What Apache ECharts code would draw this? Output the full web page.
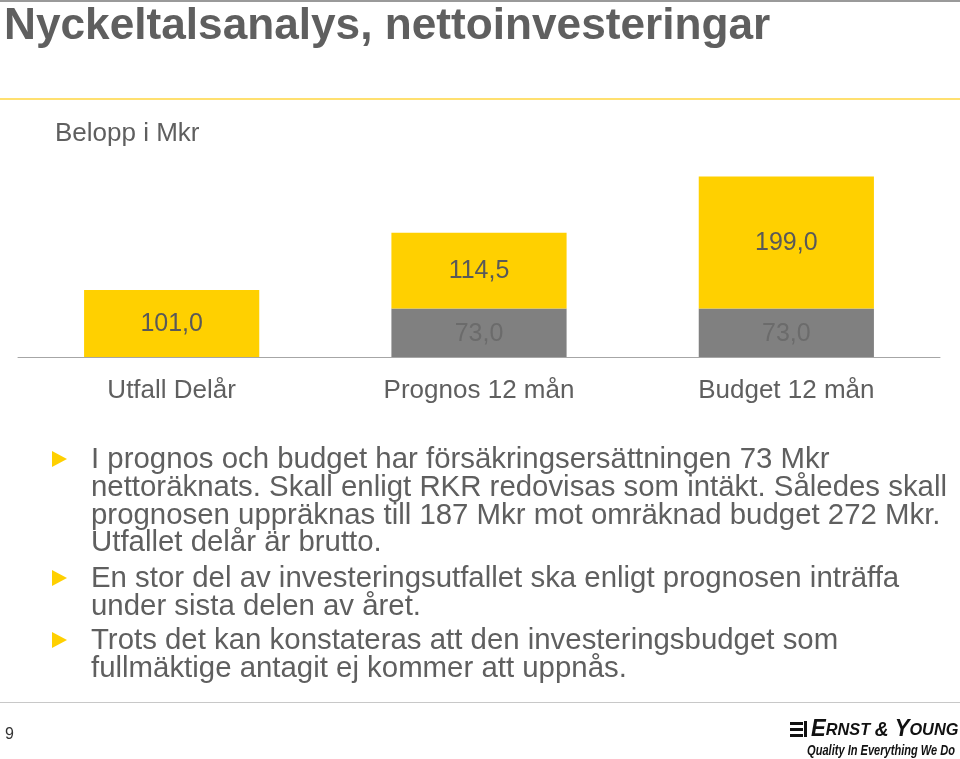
<!DOCTYPE html>
<html><head><meta charset="utf-8">
<script src="https://cdn.jsdelivr.net/npm/echarts@6/dist/echarts.min.js"></script>
<style>html,body{margin:0;padding:0;background:#fff}#c{width:960px;height:759px}</style>
</head><body><div id="c"></div>
<script>
const categories = ['Utfall Delår', 'Prognos 12 mån', 'Budget 12 mån'];
const grossValues = [null, 73.0, 73.0];
const netValues = [101.0, 114.5, 199.0];
const titleText = 'Nyckeltalsanalys, nettoinvesteringar';
const unitText = 'Belopp i Mkr';
const bulletLines = [
  ['I prognos och budget har försäkringsersättningen 73 Mkr',
   'nettoräknats. Skall enligt RKR redovisas som intäkt. Således skall',
   'prognosen uppräknas till 187 Mkr mot omräknad budget 272 Mkr.',
   'Utfallet delår är brutto.'],
  ['En stor del av investeringsutfallet ska enligt prognosen inträffa',
   'under sista delen av året.'],
  ['Trots det kan konstateras att den investeringsbudget som',
   'fullmäktige antagit ej kommer att uppnås.']
];
const pageNumber = '9';

const YELLOW = '#FFD000', GRAY = '#808080', TEXT = '#5f5f5f';
const FONT = 'Arial, Liberation Sans, sans-serif';
const fmt = v => v == null ? '' : v.toFixed(1).replace('.', ',');

const graphics = [];
graphics.push({type:'rect', shape:{x:0,y:0,width:960,height:2}, style:{fill:'#9a9a9a'}});
graphics.push({type:'rect', shape:{x:0,y:98,width:960,height:2}, style:{fill:'#FFE070'}});
graphics.push({type:'rect', shape:{x:0,y:702,width:960,height:1}, style:{fill:'#c8c8c8'}});
graphics.push({type:'text', x:4, y:27, style:{text:titleText, font:'bold 44.2px '+FONT, fill:TEXT, verticalAlign:'middle'}});
graphics.push({type:'text', x:55, y:134, style:{text:unitText, font:'26px '+FONT, fill:TEXT, verticalAlign:'middle'}});
const starts = [459, 578, 640];
bulletLines.forEach((lines, i) => {
  const y0 = starts[i];
  graphics.push({type:'polygon', shape:{points:[[52,y0-8],[67,y0],[52,y0+8]]}, style:{fill:YELLOW}});
  lines.forEach((ln, j) => {
    graphics.push({type:'text', x:91, y:y0 + 1 + j*27.7, style:{text:ln, font:'29.4px '+FONT, fill:TEXT, verticalAlign:'middle', textAlign:'left'}});
  });
});
graphics.push({type:'text', x:5, y:735, style:{text:pageNumber, font:'16px '+FONT, fill:'#333', verticalAlign:'middle'}});
// EY logo
graphics.push({type:'group', children:[
  {type:'rect', shape:{x:790,y:722,width:13,height:3}, style:{fill:'#111'}},
  {type:'rect', shape:{x:790,y:728,width:13,height:3}, style:{fill:'#111'}},
  {type:'rect', shape:{x:790,y:734,width:13,height:3}, style:{fill:'#111'}},
  {type:'rect', shape:{x:804,y:721,width:3,height:16}, style:{fill:'#111'}},
  {type:'text', x:811, y:730, scaleX:0.96, style:{
    text:'{b|E}{s|RNST }{m|&}{b| Y}{s|OUNG}',
    fill:'#111', verticalAlign:'middle',
    rich:{b:{font:'italic bold 23px '+FONT, fill:'#111'}, s:{font:'italic bold 17px '+FONT, fill:'#111'}, m:{font:'italic bold 20px '+FONT, fill:'#111'}}}},
  {type:'text', x:955, y:751, scaleX:0.79, style:{text:'Quality In Everything We Do', font:'italic bold 14px '+FONT, fill:'#111', verticalAlign:'middle', textAlign:'right'}}
]});

const chart = echarts.init(document.getElementById('c'), null, {renderer:'canvas'});
chart.setOption({
  animation:false,
  backgroundColor:'#fff',
  grid:{left:18, right:20, top:158, height:199, containLabel:false},
  xAxis:{type:'category', data:categories,
    axisLine:{lineStyle:{color:'#a6a6a6', width:1}}, axisTick:{show:false},
    axisLabel:{fontFamily:FONT, fontSize:26, color:TEXT, margin:21}},
  yAxis:{type:'value', min:0, max:300, show:false, splitLine:{show:false}},
  series:[
    {type:'bar', stack:'a', data:grossValues, barWidth:'57%', itemStyle:{color:GRAY},
     label:{show:true, position:'inside', offset:[0,1], formatter:p=>fmt(p.value), fontFamily:FONT, fontSize:25, color:'#6b6b6b'}},
    {type:'bar', stack:'a', data:netValues, barWidth:'57%', itemStyle:{color:YELLOW},
     label:{show:true, position:'inside', offset:[0,1], formatter:p=>fmt(p.value), fontFamily:FONT, fontSize:25, color:'#595959'}}
  ],
  graphic:graphics
});
</script></body></html>
